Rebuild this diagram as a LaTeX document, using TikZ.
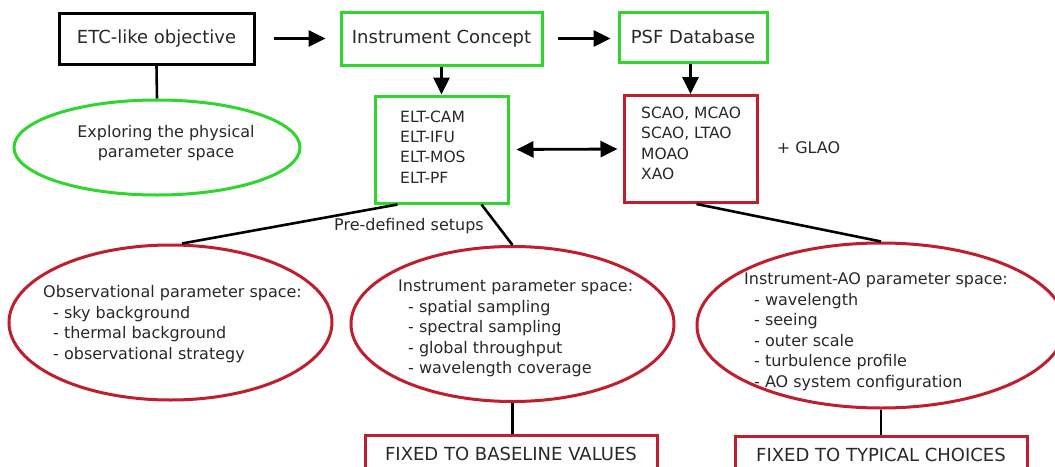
\documentclass[tikz,border=0pt]{standalone}
\usepackage{fontspec}
\setmainfont{DejaVu Sans}
\usetikzlibrary{calc, arrows, positioning, shapes.geometric}
\usetikzlibrary{arrows.meta}

\definecolor{boxgreen}{RGB}{46,214,46}
\definecolor{boxred}{RGB}{190,30,45}
\definecolor{txtgray}{RGB}{40,40,40}
\newcommand{\subitm}{\hspace*{10pt}-~}

\begin{document}
\begin{tikzpicture}[x=1pt, y=-1pt,
    every node/.style={text=txtgray, font=\fontsize{16}{20.5}\selectfont},
    topbox/.style={draw, line width=3pt, inner sep=0pt, font=\fontsize{18}{21}\selectfont},
    listbox/.style={draw, line width=3pt, inner sep=0pt, minimum height=107pt, minimum width=133pt},
    listtxt/.style={inner sep=0pt, align=left, anchor=west, font=\fontsize{15.5}{20.3}\selectfont},
    oval/.style={ellipse, draw=boxred, line width=3pt, inner sep=0pt},
    txt/.style={inner sep=0pt, align=left, anchor=west},
    fixbox/.style={draw=boxred, line width=3pt, inner sep=0pt, minimum height=44pt, minimum width=292pt,
        text depth=6pt, font=\fontsize{18}{21}\selectfont},
    arr/.style={-{Triangle[length=17pt,width=16pt]}, line width=2.8pt},
    dblarr/.style={{Triangle[length=17pt,width=16pt]}-{Triangle[length=17pt,width=16pt]}, line width=2.8pt},
    link/.style={line width=2.6pt}]
    \useasboundingbox (0,0) rectangle (1055,466);
    \clip (0,0) rectangle (1055,466);

    \node[topbox, minimum width=195pt, minimum height=51pt] (etc) at (156.5,38.5) {ETC-like objective};
    \node[topbox, draw=boxgreen, minimum width=201pt, minimum height=53pt] (concept) at (441.5,38.5) {Instrument Concept};
    \node[topbox, draw=boxgreen, minimum width=148pt, minimum height=50pt] (psf) at (693,37) {PSF Database};

    \node[listbox, draw=boxgreen] (instr) at (441.5,149.5) {};
    \node[listtxt] (instrtxt) at (400,147) {ELT-CAM\\ELT-IFU\\ELT-MOS\\ELT-PF};
    \node[listbox, draw=boxred] (ao) at (690.5,149) {};
    \node[listtxt] (aotxt) at (641,143.5) {SCAO, MCAO\\SCAO, LTAO\\MOAO\\XAO};
    \node (glao) at (808.5,148) {+ GLAO};

    \node[ellipse, draw=boxgreen, line width=3pt, minimum width=286pt, minimum height=95pt] (explore) at (157,147.5) {};
    \node[align=center, inner sep=0pt] (exploretxt) at (166,143) {Exploring the physical\\parameter space};

    \node[oval, minimum width=323pt, minimum height=155pt] (obs) at (170.5,322.5) {};
    \node[txt] (obstxt) at (43,324) {Observational parameter space:\\\subitm sky background\\\subitm thermal background\\\subitm observational strategy};

    \node[oval, minimum width=323pt, minimum height=155pt] (inst) at (512.5,324) {};
    \node[txt] (insttxt) at (398,328.5) {Instrument parameter space:\\\subitm spatial sampling\\\subitm spectral sampling\\\subitm global throughput\\\subitm wavelength coverage};

    \node[oval, minimum width=368pt, minimum height=165pt] (aoell) at (881,325.5) {};
    \node[txt] (aoelltxt) at (744,331.5) {Instrument-AO parameter space:\\\subitm wavelength\\\subitm seeing\\\subitm outer scale\\\subitm turbulence profile\\\subitm AO system configuration};

    \node[fixbox] (base) at (511,457) {FIXED TO BASELINE VALUES};
    \node[fixbox] (typ) at (881,458) {FIXED TO TYPICAL CHOICES};

    \node (setups) at (409,226) {Pre-defined setups};

    \draw[arr, shorten <=18pt, shorten >=14pt] (etc.east) -- (etc.east -| concept.west);
    \draw[arr, shorten <=14pt, shorten >=7pt] (concept.east) -- (concept.east -| psf.west);
    \draw[arr] (instr.north |- concept.south) -- (instr.north);
    \draw[arr] (ao.north |- psf.south) -- (ao.north);
    \draw[dblarr, shorten <=7pt, shorten >=5pt] (instr.east) -- (ao.west);

    \draw[link] (etc.south) -- (explore.north);
    \draw[link] ([xshift=24pt]instr.south west) -- ([xshift=11.5pt]obs.north);
    \draw[link] ([xshift=-28pt]instr.south east) -- (inst.north);
    \draw[link] ([xshift=6pt]ao.south) -- (aoell.north);
    \draw[link] (inst.south) -- (inst.south |- base.north);
    \draw[link] (aoell.south) -- (typ.north);
\end{tikzpicture}
\end{document}
